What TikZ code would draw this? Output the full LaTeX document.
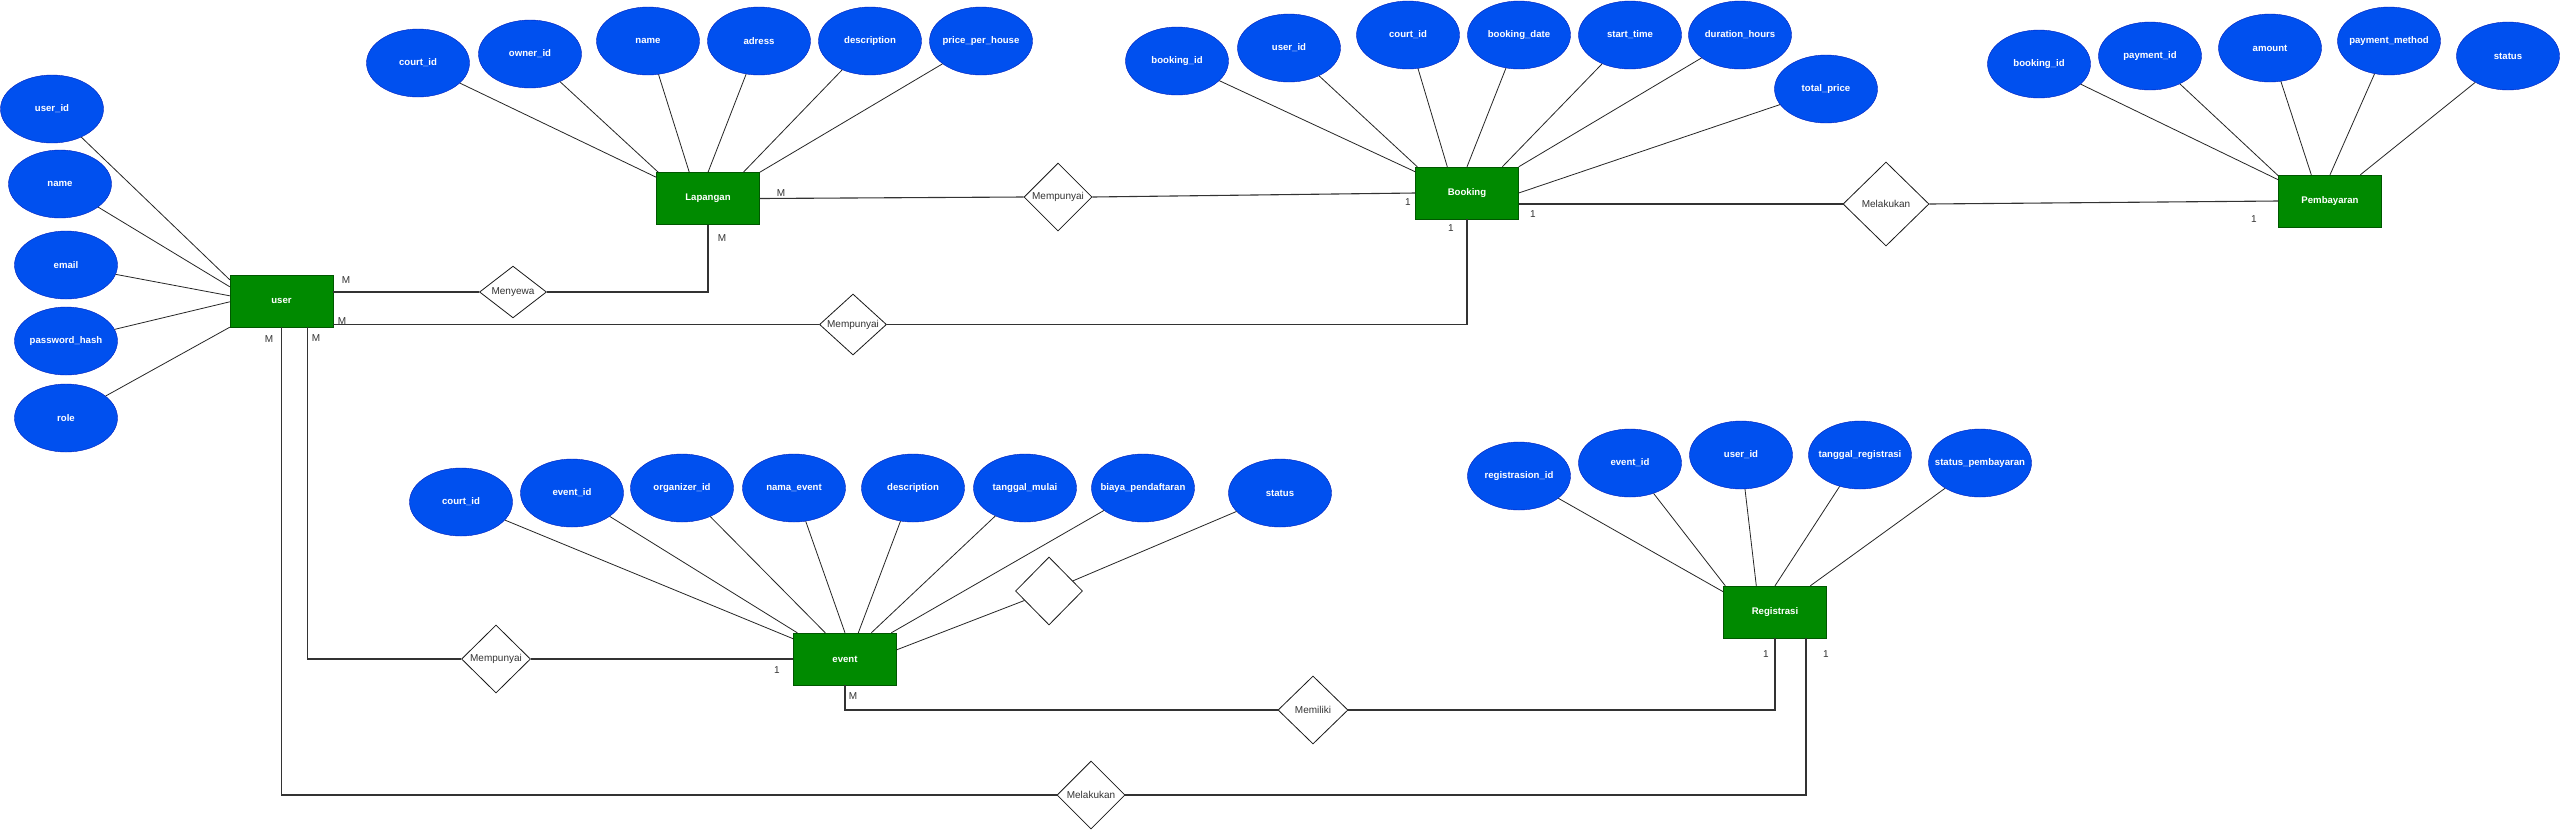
\documentclass[tikz,border=0pt]{standalone}
\usepackage{fontspec}
\setmainfont{Liberation Sans}
\usetikzlibrary{shapes.geometric,calc}
\definecolor{attrblue}{HTML}{0050EF}
\definecolor{attrstroke}{HTML}{001DBC}
\definecolor{entgreen}{HTML}{008A00}
\definecolor{entstroke}{HTML}{005700}
\definecolor{txtgray}{HTML}{333333}
\newcommand{\zt}[1]{\makebox[0pt][c]{#1}}
\begin{document}
\begin{tikzpicture}[x=1pt,y=-1pt,
  attr/.style={ellipse, draw=attrstroke, fill=attrblue, minimum width=103pt, minimum height=68pt, inner sep=0pt, text=white, font=\fontsize{9.6}{11}\selectfont\bfseries},
  ent/.style={rectangle, draw=entstroke, fill=entgreen, minimum width=103pt, minimum height=52pt, inner sep=0pt, text=white, font=\fontsize{9.6}{11}\selectfont\bfseries},
  rel/.style={diamond, draw=black!90, line width=0.8pt, fill=white, inner sep=0pt, font=\fontsize{10}{12}\selectfont, text=txtgray},
  card/.style={font=\fontsize{10}{12}\selectfont, text=txtgray, inner sep=0pt},
  aline/.style={draw=black!85, line width=0.8pt},
  rline/.style={draw=black!80, line width=1.1pt}
]
\fill[white] (0,0) rectangle (2560,831);
\useasboundingbox (0,0) rectangle (2560,831);

% entities
\node[ent] (user) at (281.5,301) {user};
\node[ent] (lap) at (708,198.5) {Lapangan};
\node[ent] (book) at (1467,193) {Booking};
\node[ent] (pay) at (2330,201) {Pembayaran};
\node[ent] (ev) at (845,659) {event};
\node[ent] (reg) at (1775,612) {Registrasi};

% user attributes
\node[attr] (uid) at (52,109) {\zt{user\_id}};
\node[attr] (uname) at (60,184) {\zt{name}};
\node[attr] (uemail) at (66,265) {\zt{email}};
\node[attr] (upw) at (66,341) {\zt{password\_hash}};
\node[attr] (urole) at (66,418) {\zt{role}};

% lapangan attributes
\node[attr] (lcid) at (418,63) {\zt{court\_id}};
\node[attr] (lown) at (530,54) {\zt{owner\_id}};
\node[attr] (lname) at (648,41) {\zt{name}};
\node[attr] (ladr) at (759,41) {\zt{adress}};
\node[attr] (ldesc) at (870,41) {\zt{description}};
\node[attr] (lprice) at (981,41) {\zt{price\_per\_house}};

% booking attributes
\node[attr] (bbid) at (1177,61) {\zt{booking\_id}};
\node[attr] (buid) at (1289,48) {\zt{user\_id}};
\node[attr] (bcid) at (1408,35) {\zt{court\_id}};
\node[attr] (bdate) at (1519,35) {\zt{booking\_date}};
\node[attr] (bstart) at (1630,35) {\zt{start\_time}};
\node[attr] (bdur) at (1740,35) {\zt{duration\_hours}};
\node[attr] (btot) at (1826,89) {\zt{total\_price}};

% pembayaran attributes
\node[attr] (pbid) at (2039,64) {\zt{booking\_id}};
\node[attr] (ppid) at (2150,56) {\zt{payment\_id}};
\node[attr] (pamt) at (2270,48) {\zt{amount}};
\node[attr] (pmeth) at (2389,41) {\zt{payment\_method}};
\node[attr] (pstat) at (2508,56) {\zt{status}};

% event attributes
\node[attr] (ecid) at (461,502) {\zt{court\_id}};
\node[attr] (eeid) at (572,493) {\zt{event\_id}};
\node[attr] (eorg) at (682,488) {\zt{organizer\_id}};
\node[attr] (enama) at (794,488) {\zt{nama\_event}};
\node[attr] (edesc) at (913,488) {\zt{description}};
\node[attr] (etgl) at (1025,488) {\zt{tanggal\_mulai}};
\node[attr] (ebiaya) at (1143,488) {\zt{biaya\_pendaftaran}};
\node[attr] (estat) at (1280,493) {\zt{status}};

% registrasi attributes
\node[attr] (rrid) at (1519,476) {\zt{registrasion\_id}};
\node[attr] (reid) at (1630,463) {\zt{event\_id}};
\node[attr] (ruid) at (1741,455) {\zt{user\_id}};
\node[attr] (rtgl) at (1860,455) {\zt{tanggal\_registrasi}};
\node[attr] (rstat) at (1980,463) {\zt{status\_pembayaran}};

% relationships
\node[rel, minimum width=67pt, minimum height=51pt] (men) at (513,292) {Menyewa};
\node[rel, minimum width=68pt, minimum height=68pt] (mp1) at (1058,197) {Mempunyai};
\node[rel, minimum width=67pt, minimum height=51pt] (mp2) at (853,324.5) {Mempunyai};
\node[rel, minimum width=86pt, minimum height=84pt] (mk1) at (1886,204) {Melakukan};
\node[rel, minimum width=67pt, minimum height=68pt] (unn) at (1049,591) {};
\node[rel, minimum width=69pt, minimum height=68pt] (mp3) at (496,659) {Mempunyai};
\node[rel, minimum width=70pt, minimum height=68pt] (mem) at (1313,710) {Memiliki};
\node[rel, minimum width=68pt, minimum height=68pt] (mk2) at (1091,795) {Melakukan};

% attribute lines
\draw[aline] (uid) -- ($(user.north west)+(0,5)$);
\draw[aline] (uname) -- ($(user.north west)+(0,12)$);
\draw[aline] (uemail) -- ($(user.north west)+(0,21)$);
\draw[aline] (upw) -- ($(user.north west)+(0,27)$);
\draw[aline] (urole) -- (user.south west);

\draw[aline] (lcid) -- ($(lap.north west)+(0,5)$);
\draw[aline] (lown) -- ($(lap.north west)+(2,0)$);
\draw[aline] (lname) -- ($(lap.north west)+(33,0)$);
\draw[aline] (ladr) -- (lap.north);
\draw[aline] (ldesc) -- ($(lap.north west)+(87,0)$);
\draw[aline] (lprice) -- (lap.north east);

\draw[aline] (bbid) -- ($(book.north west)+(0,5)$);
\draw[aline] (buid) -- ($(book.north west)+(2,0)$);
\draw[aline] (bcid) -- ($(book.north west)+(32,0)$);
\draw[aline] (bdate) -- (book.north);
\draw[aline] (bstart) -- ($(book.north west)+(87,0)$);
\draw[aline] (bdur) -- (book.north east);
\draw[aline] (btot) -- (book.east);

\draw[aline] (pbid) -- ($(pay.north west)+(0,5)$);
\draw[aline] (ppid) -- ($(pay.north west)+(0,1)$);
\draw[aline] (pamt) -- ($(pay.north west)+(33,0)$);
\draw[aline] (pmeth) -- (pay.north);
\draw[aline] (pstat) -- ($(pay.north west)+(82,0)$);

\draw[aline] (ecid) -- ($(ev.north west)+(0,6)$);
\draw[aline] (eeid) -- ($(ev.north west)+(4,0)$);
\draw[aline] (eorg) -- ($(ev.north west)+(32,0)$);
\draw[aline] (enama) -- (ev.north);
\draw[aline] (edesc) -- ($(ev.north west)+(65,0)$);
\draw[aline] (etgl) -- ($(ev.north west)+(78,0)$);
\draw[aline] (ebiaya) -- ($(ev.north west)+(98,0)$);
\draw[aline] ($(ev.north east)+(0,17)$) -- (unn);
\draw[aline] (unn) -- (estat);

\draw[aline] (rrid) -- ($(reg.north west)+(0,6)$);
\draw[aline] (reid) -- ($(reg.north west)+(2,0)$);
\draw[aline] (ruid) -- ($(reg.north west)+(33,0)$);
\draw[aline] (rtgl) -- (reg.north);
\draw[aline] (rstat) -- ($(reg.north west)+(87,0)$);

% relationship lines
\draw[rline] (men.west) -- (men.west -| user.east);
\draw[rline] (men.east) -| (lap.south);
\draw[rline] (lap.east) -- (mp1.west);
\draw[rline] (mp1.east) -- (book.west);
\draw[rline] (mp2.west) -- (mp2.west -| user.east);
\draw[rline] (mp2.east) -| (book.south);
\draw[rline] (mk1.west) -- (mk1.west -| book.east);
\draw[rline] (mk1.east) -- (pay.west);
\draw[rline] ($(user.south)+(26,0)$) |- (mp3.west);
\draw[rline] (mp3.east) -- (ev.west);
\draw[rline] (ev.south) |- (mem.west);
\draw[rline] (mem.east) -| (reg.south);
\draw[rline] (user.south) |- (mk2.west);
\draw[rline] (mk2.east) -| ($(reg.south)+(31,0)$);

% cardinalities
\node[card] (c1) at (346,280) {M};
\node[card] (c2) at (342,321) {M};
\node[card] (c3) at (269,339) {M};
\node[card] (c4) at (316,338) {M};
\node[card] (c5) at (781,193) {M};
\node[card] (c6) at (722,238) {M};
\node[card] (c7) at (1408,202) {1};
\node[card] (c8) at (1533,214) {1};
\node[card] (c9) at (1451,228) {1};
\node[card] (c10) at (2254,219) {1};
\node[card] (c11) at (777,670) {1};
\node[card] (c12) at (853,696) {M};
\node[card] (c13) at (1766,654) {1};
\node[card] (c14) at (1826,654) {1};
\end{tikzpicture}
\end{document}
